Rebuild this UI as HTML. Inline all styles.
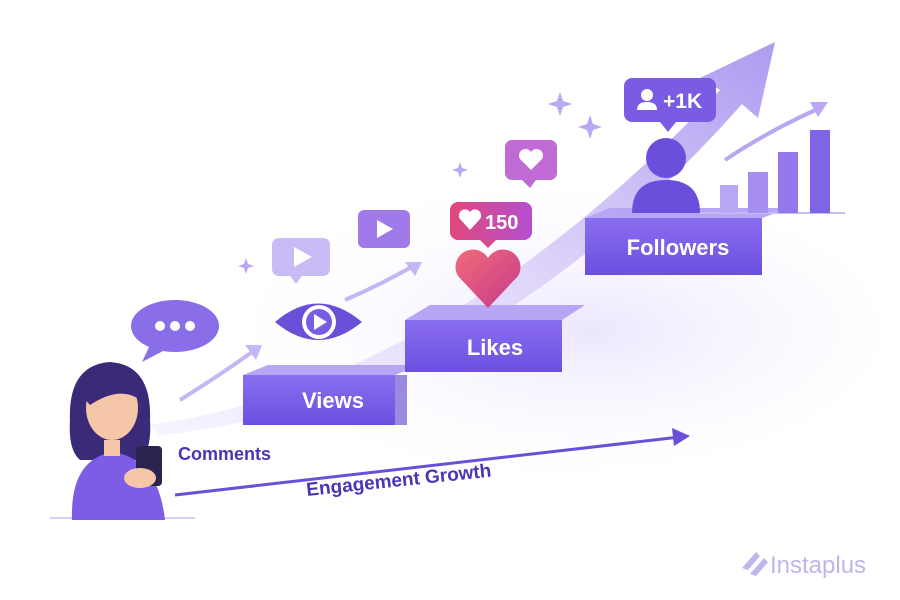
<!DOCTYPE html>
<html><head><meta charset="utf-8"><style>
html,body{margin:0;padding:0;background:#fff;}
svg{display:block;font-family:"Liberation Sans",sans-serif;}
</style></head><body>
<svg width="900" height="600" viewBox="0 0 900 600" xmlns="http://www.w3.org/2000/svg">
<defs>
<radialGradient id="glow" cx="0.55" cy="0.5" r="0.6">
<stop offset="0" stop-color="#ece6fd"/><stop offset="1" stop-color="#ffffff" stop-opacity="0"/>
</radialGradient>
<linearGradient id="arrow" x1="0" y1="1" x2="1" y2="0">
<stop offset="0" stop-color="#f6f3fe"/><stop offset="0.5" stop-color="#ddd3fa"/><stop offset="1" stop-color="#a590ee"/>
</linearGradient>
<linearGradient id="front" x1="0" y1="0" x2="0" y2="1">
<stop offset="0" stop-color="#8a6ef0"/><stop offset="1" stop-color="#6d4fe0"/>
</linearGradient>
<linearGradient id="heart" x1="0" y1="0" x2="1" y2="1">
<stop offset="0" stop-color="#f26a7a"/><stop offset="1" stop-color="#c43a8a"/>
</linearGradient>
<linearGradient id="badge" x1="0" y1="0" x2="1" y2="0">
<stop offset="0" stop-color="#e0487a"/><stop offset="1" stop-color="#b54fd0"/>
</linearGradient>
</defs>
<rect width="900" height="600" fill="#fff"/>
<ellipse cx="560" cy="330" rx="320" ry="140" fill="url(#glow)"/>
<!-- big arrow -->
<path d="M150 425 C330 400 520 300 720 90 L700 78 L775 42 L758 118 L742 104 C560 310 360 415 160 435 Z" fill="url(#arrow)" opacity="0.9"/>
<!-- small arrows -->
<path d="M180 400 Q220 375 255 350" stroke="#c5b6f5" stroke-width="4" fill="none"/>
<path d="M245 345 L262 345 L256 360 Z" fill="#c5b6f5"/>
<path d="M345 300 Q380 285 415 265" stroke="#c5b6f5" stroke-width="4" fill="none"/>
<path d="M405 262 L422 262 L415 276 Z" fill="#c5b6f5"/>
<path d="M725 160 Q770 130 820 108" stroke="#b9a7f3" stroke-width="4" fill="none"/>
<path d="M810 102 L828 102 L818 117 Z" fill="#b9a7f3"/>
<line x1="50" y1="518" x2="195" y2="518" stroke="#d8cff6" stroke-width="2"/>
<!-- Views step -->
<polygon points="243,375 395,375 420,365 268,365" fill="#b7a5f5"/>
<rect x="243" y="375" width="152" height="50" fill="url(#front)"/>
<rect x="395" y="375" width="12" height="50" fill="#5a3dc9" opacity="0.6"/>
<text x="333" y="408" font-size="22" font-weight="bold" fill="#fff" text-anchor="middle">Views</text>
<!-- Likes step -->
<polygon points="405,320 562,320 585,305 430,305" fill="#b7a5f5"/>
<rect x="405" y="320" width="157" height="52" fill="url(#front)"/>
<text x="495" y="355" font-size="22" font-weight="bold" fill="#fff" text-anchor="middle">Likes</text>
<!-- Followers step -->
<polygon points="585,218 762,218 790,208 610,208" fill="#b7a5f5"/>
<rect x="585" y="218" width="177" height="57" fill="url(#front)"/>
<text x="678" y="255" font-size="22" font-weight="bold" fill="#fff" text-anchor="middle">Followers</text>
<line x1="700" y1="213" x2="845" y2="213" stroke="#c8bbf4" stroke-width="2"/>
<rect x="720" y="185" width="18" height="28" fill="#b9a7f3"/>
<rect x="748" y="172" width="20" height="41" fill="#a58ef0"/>
<rect x="778" y="152" width="20" height="61" fill="#9378ec"/>
<rect x="810" y="130" width="20" height="83" fill="#8064e6"/>
<circle cx="666" cy="158" r="20" fill="#6b4fdc"/>
<path d="M632 213 Q632 180 666 180 Q700 180 700 213 Z" fill="#6b4fdc"/>
<rect x="624" y="78" width="92" height="44" rx="8" fill="#7a5ce4"/>
<path d="M660 122 L668 132 L676 122 Z" fill="#7a5ce4"/>
<circle cx="647" cy="95" r="6" fill="#fff"/>
<path d="M637 110 Q637 102 647 102 Q657 102 657 110 Z" fill="#fff"/>
<text x="663" y="108" font-size="21" font-weight="bold" fill="#fff">+1K</text>
<rect x="505" y="140" width="52" height="40" rx="7" fill="#c06ad6"/>
<path d="M522 180 L530 188 L536 180 Z" fill="#c06ad6"/>
<path d="M531 170 L520 159 A6 6 0 0 1 531 152 A6 6 0 0 1 542 159 Z" fill="#fff"/>
<rect x="450" y="202" width="82" height="38" rx="8" fill="url(#badge)"/>
<path d="M480 240 L488 248 L496 240 Z" fill="#d24a90"/>
<path d="M470 230 L460 219 A6 6 0 0 1 470 212 A6 6 0 0 1 480 219 Z" fill="#fff"/>
<text x="485" y="229" font-size="20" font-weight="bold" fill="#fff">150</text>
<path d="M488 308 L458 276 A16 16 0 0 1 488 258 A16 16 0 0 1 518 276 Z" fill="url(#heart)"/>
<rect x="358" y="210" width="52" height="38" rx="6" fill="#a07ae8"/>
<path d="M377 220 L377 238 L393 229 Z" fill="#fff"/>
<rect x="272" y="238" width="58" height="38" rx="7" fill="#c9bbf5"/>
<path d="M290 276 L296 284 L302 276 Z" fill="#c9bbf5"/>
<path d="M294 247 L294 267 L312 257 Z" fill="#fff"/>
<path d="M275 322 Q318 285 362 322 Q318 358 275 322 Z" fill="#6a4fd8"/>
<circle cx="319" cy="322" r="17" fill="#fff"/>
<circle cx="319" cy="322" r="13" fill="#7a5ce4"/>
<path d="M314 314 L314 330 L327 322 Z" fill="#fff"/>
<ellipse cx="175" cy="326" rx="44" ry="26" fill="#8a6ee8"/>
<path d="M150 345 L142 362 L165 350 Z" fill="#8a6ee8"/>
<circle cx="160" cy="326" r="5" fill="#fff"/><circle cx="175" cy="326" r="5" fill="#fff"/><circle cx="190" cy="326" r="5" fill="#fff"/>
<g fill="#b9a7f3">
<path d="M560 92 l3 9 9 3 -9 3 -3 9 -3 -9 -9 -3 9 -3z"/>
<path d="M590 115 l3 9 9 3 -9 3 -3 9 -3 -9 -9 -3 9 -3z"/>
<path d="M460 162 l2 6 6 2 -6 2 -2 6 -2 -6 -6 -2 6 -2z"/>
<path d="M246 258 l2 6 6 2 -6 2 -2 6 -2 -6 -6 -2 6 -2z"/>
</g>
<path d="M70 420 Q68 365 110 362 Q152 365 150 420 Q152 450 140 460 L80 460 Q68 450 70 420 Z" fill="#3b2a78"/>
<ellipse cx="112" cy="408" rx="26" ry="32" fill="#f6c6a8"/>
<path d="M84 398 Q95 372 120 375 Q140 380 140 400 Q120 385 90 405 Z" fill="#3b2a78"/>
<path d="M72 520 Q70 460 112 452 Q158 458 165 520 Z" fill="#7c5ee6"/>
<rect x="104" y="440" width="16" height="16" fill="#f6c6a8"/>
<rect x="136" y="446" width="26" height="40" rx="4" fill="#2b2350"/>
<ellipse cx="140" cy="478" rx="16" ry="10" fill="#f6c6a8"/>
<text x="178" y="460" font-size="18" font-weight="bold" fill="#4a35b8">Comments</text>
<line x1="175" y1="495" x2="680" y2="437" stroke="#6a4fd8" stroke-width="3"/>
<path d="M690 436 L672 428 L674 446 Z" fill="#6a4fd8"/>
<text x="307" y="496" font-size="19" font-weight="bold" fill="#4a35b8" transform="rotate(-6 307 496)">Engagement Growth</text>
<path d="M742 568 L756 552 L760 556 L748 570 Z M750 574 L764 558 L768 562 L756 576 Z" fill="#c0b5ec"/>
<text x="770" y="573" font-size="24" fill="#c0b5ec">Instaplus</text>
</svg>
</body></html>
